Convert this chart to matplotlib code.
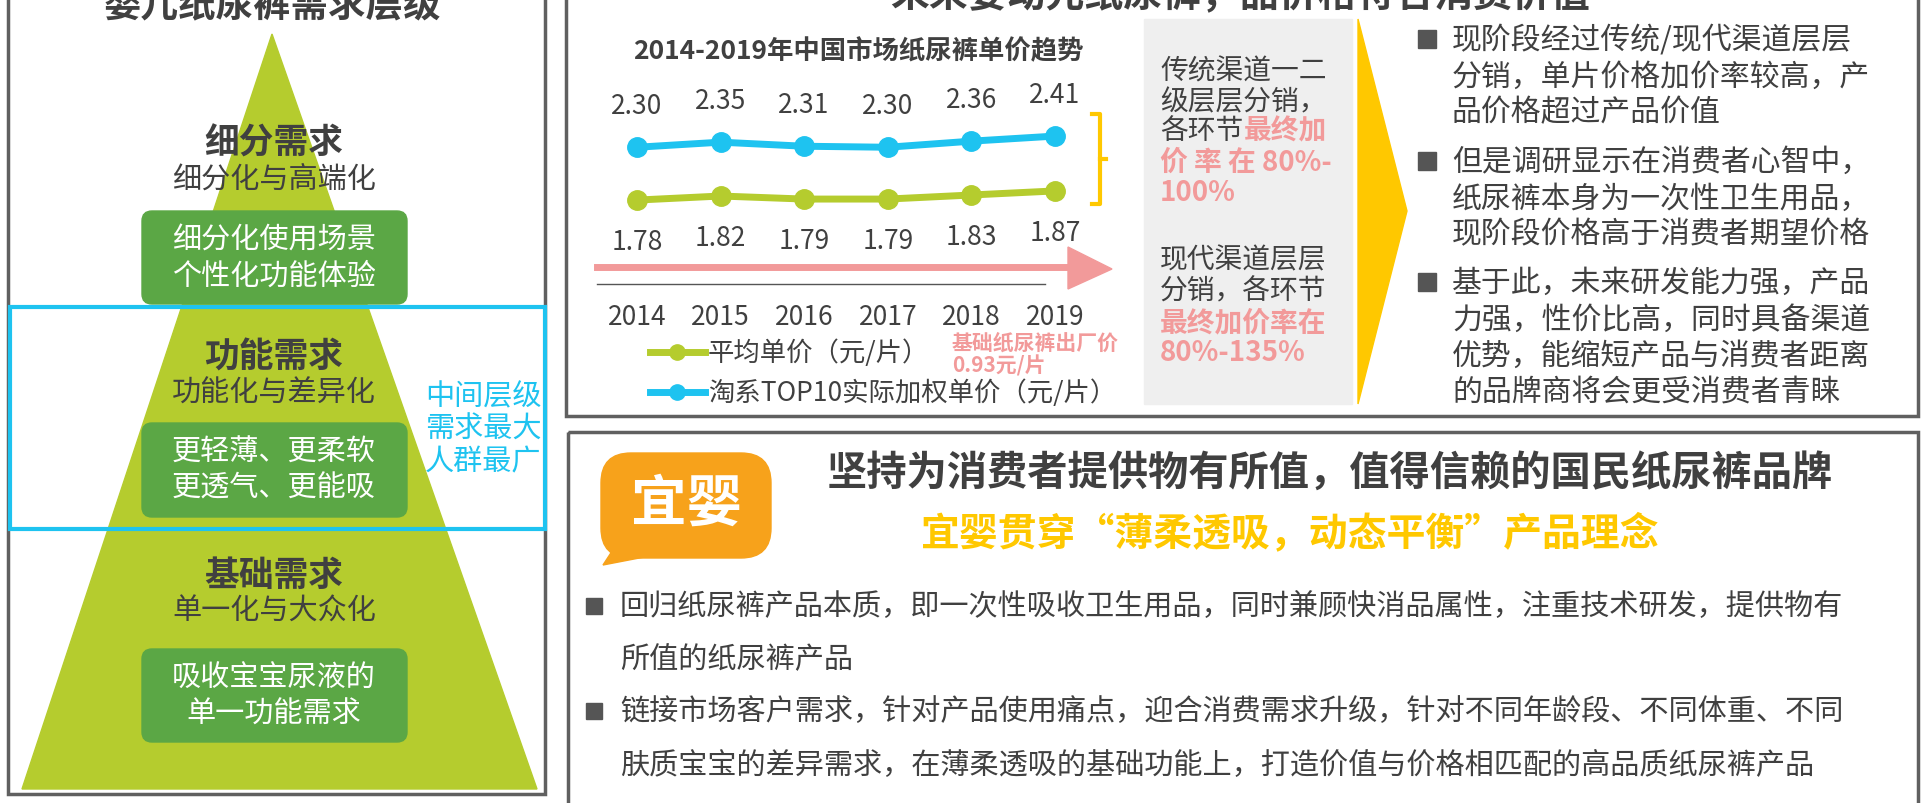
import matplotlib
matplotlib.use("Agg")
import matplotlib.pyplot as plt
from matplotlib.patches import Polygon, Rectangle, FancyBboxPatch

plt.rcParams['font.family'] = ['Noto Sans CJK SC']

years = ['2014', '2015', '2016', '2017', '2018', '2019']
avg_price = [1.78, 1.82, 1.79, 1.79, 1.83, 1.87]
top10_price = [2.30, 2.35, 2.31, 2.30, 2.36, 2.41]
legend_avg = '平均单价（元/片）'
legend_top = '淘系TOP10实际加权单价（元/片）'

W, H = 1929, 804
fig = plt.figure(figsize=(W/100, H/100), dpi=100)
ax = fig.add_axes([0, 0, 1, 1])
ax.set_xlim(0, W); ax.set_ylim(H, 0); ax.axis('off')

DG = '#404040'; GREEN = '#b5cc2e'; DGREEN = '#5ba745'; CYAN = '#1ec3f0'
PINK = '#f29a9a'; YEL = '#ffc800'

def T(x, y, s, size=17, color=DG, ha='center', weight='normal', **kw):
    ax.text(x, y, s, fontsize=size, color=color, ha=ha, va='center', fontweight=weight, **kw)

# ---------- left panel ----------
ax.add_patch(Rectangle((8, -10), 537, 805, fill=False, ec='#606060', lw=2.5))
T(272, 6, '婴儿纸尿裤需求层级', size=27, weight='bold')
ax.add_patch(Polygon([(272, 35), (22, 790), (537, 790)], color=GREEN, zorder=1))
ax.add_patch(Rectangle((10, 308), 535, 222, fill=False, ec=CYAN, lw=3, zorder=3))
for (y0, y1, s) in [(212, 305, '细分化使用场景\n个性化功能体验'),
                    (424, 518, '更轻薄、更柔软\n更透气、更能吸'),
                    (650, 743, '吸收宝宝尿液的\n单一功能需求')]:
    ax.add_patch(FancyBboxPatch((142, y0), 265, y1 - y0, boxstyle='round,pad=0,rounding_size=10',
                                color=DGREEN, zorder=2))
    T(274, (y0 + y1) / 2, s, size=21, color='white', linespacing=1.25, zorder=4)
for y, a, b in [(143, '细分需求', '细分化与高端化'), (357, '功能需求', '功能化与差异化'),
                (575, '基础需求', '单一化与大众化')]:
    T(274, y, a, size=25, weight='bold', zorder=4)
    T(274, y + 37, b, size=21, zorder=4)
T(483, 430, '中间层级\n需求最大\n人群最广', size=21, color=CYAN, linespacing=1.1, zorder=4)

# ---------- top middle panel ----------
ax.add_patch(Rectangle((566, -10), 1352, 427, fill=False, ec='#606060', lw=2.5))
T(1240, -4, '未来要动元纸尿裤，品价格符合消费价值', size=28, weight='bold')
T(858, 52, '2014-2019年中国市场纸尿裤单价趋势', size=19, weight='bold')

# line chart inset: pixel rect x 600..1110, y 100..260
cax = fig.add_axes([600 / W, 1 - 260 / H, 510 / W, 160 / H])
cax.axis('off')
cax.set_xlim(-0.443, 5.66)
cax.set_ylim(1.2, 2.775)
xs = list(range(len(years)))
cax.plot(xs, top10_price, color=CYAN, lw=5, marker='o', ms=14, solid_capstyle='round')
cax.plot(xs, avg_price, color=GREEN, lw=5, marker='o', ms=14, solid_capstyle='round')
for i in xs:
    cax.annotate(f'{top10_price[i]:.2f}', (i, top10_price[i]), xytext=(0, 30), textcoords='offset points',
                 ha='center', va='center', fontsize=19, color=DG, annotation_clip=False)
    cax.annotate(f'{avg_price[i]:.2f}', (i, avg_price[i]), xytext=(0, -30), textcoords='offset points',
                 ha='center', va='center', fontsize=19, color=DG, annotation_clip=False)
for i, yr in enumerate(years):
    T(637 + 83.6 * i, 318, yr, size=19)
ax.plot([597, 1073], [268, 268], color=PINK, lw=5)
ax.add_patch(Polygon([(1068, 248), (1112, 270), (1068, 290)], color=PINK))
ax.plot([597, 1045], [285, 285], color='#555555', lw=1)
ax.plot([1092, 1100, 1100, 1092], [115, 115, 205, 205], color=YEL, lw=3)
ax.plot([1100, 1106], [160, 160], color=YEL, lw=3)
for y, c, s in [(353, GREEN, legend_avg), (393, CYAN, legend_top)]:
    ax.plot([650, 705], [y, y], color=c, lw=5)
    ax.plot([677], [y], 'o', color=c, ms=11)
    T(708, y, s, size=19, ha='left')
T(952, 343, '基础纸尿裤出厂价', size=15, color=PINK, ha='left', weight='bold')
T(952, 366, '0.93元/片', size=15, color=PINK, ha='left', weight='bold')

# gray box
ax.add_patch(Rectangle((1144, 20), 208, 385, color='#efefef'))
fs = 20
def seg_line(y, parts, x=1160):
    for s, c, w in parts:
        ax.text(x, y, s, fontsize=fs, color=c, fontweight=w, ha='left', va='center')
        x += len(s) * 28
seg_line(72, [('传统渠道一二', DG, 'normal')])
seg_line(102, [('级层层分销，', DG, 'normal')])
seg_line(131, [('各环节', DG, 'normal'), ('最终加', PINK, 'bold')])
seg_line(163, [('价 率 在 80%-', PINK, 'bold')])
seg_line(193, [('100%', PINK, 'bold')])
seg_line(260, [('现代渠道层层', DG, 'normal')])
seg_line(291, [('分销，各环节', DG, 'normal')])
seg_line(323, [('最终加价率在', PINK, 'bold')])
seg_line(353, [('80%-135%', PINK, 'bold')])
ax.add_patch(Polygon([(1358, 20), (1407, 212), (1358, 405)], color=YEL))

# right bullets
rb = [[(40, '现阶段经过传统/现代渠道层层'), (77, '分销，单片价格加价率较高，产'), (113, '品价格超过产品价值')],
      [(162, '但是调研显示在消费者心智中，'), (199, '纸尿裤本身为一次性卫生用品，'), (235, '现阶段价格高于消费者期望价格')],
      [(283, '基于此，未来研发能力强，产品'), (320, '力强，性价比高，同时具备渠道'), (356, '优势，能缩短产品与消费者距离'), (392, '的品牌商将会更受消费者青睐')]]
for grp in rb:
    ax.add_patch(Rectangle((1418, grp[0][0] - 9), 18, 18, color='#555555'))
    for y, s in grp:
        T(1452, y, s, size=21.5, ha='left')

# ---------- bottom panel ----------
ax.add_patch(Rectangle((568, 433), 1350, 380, fill=False, ec='#606060', lw=2.5))
ax.add_patch(FancyBboxPatch((601, 454), 170, 105, boxstyle='round,pad=0,rounding_size=30', color='#f7a21b'))
ax.add_patch(Polygon([(620, 540), (603, 566), (660, 555)], color='#f7a21b'))
T(686, 505, '宜婴', size=40, color='white', weight='bold')
T(1330, 473, '坚持为消费者提供物有所值，值得信赖的国民纸尿裤品牌', size=29, weight='bold')
T(1290, 533, '宜婴贯穿“薄柔透吸，动态平衡”产品理念', size=28, color=YEL, weight='bold')
bb = [[(607, '回归纸尿裤产品本质，即一次性吸收卫生用品，同时兼顾快消品属性，注重技术研发，提供物有'), (660, '所值的纸尿裤产品')],
      [(712, '链接市场客户需求，针对产品使用痛点，迎合消费需求升级，针对不同年龄段、不同体重、不同'), (766, '肤质宝宝的差异需求，在薄柔透吸的基础功能上，打造价值与价格相匹配的高品质纸尿裤产品')]]
for grp in bb:
    ax.add_patch(Rectangle((586, grp[0][0] - 8), 16, 16, color='#555555'))
    for y, s in grp:
        T(620, y, s, size=21, ha='left')

fig.savefig('out.png', dpi=100)
